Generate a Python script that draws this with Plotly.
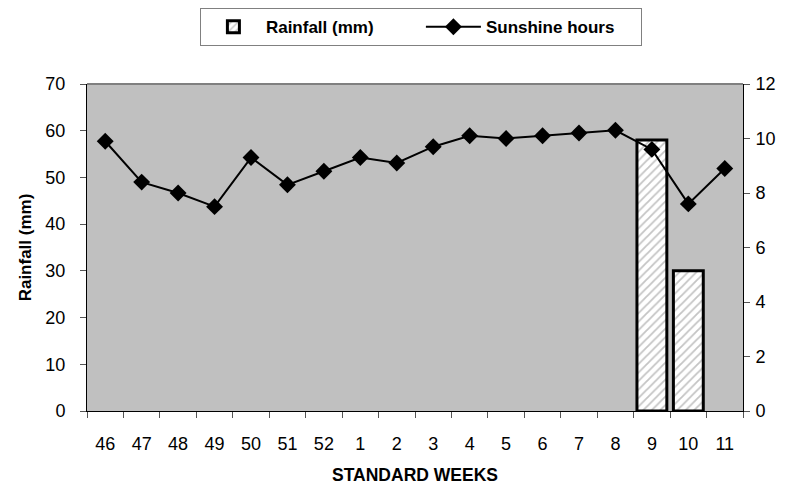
import plotly.graph_objects as go

weeks = ["46", "47", "48", "49", "50", "51", "52", "1", "2", "3", "4", "5", "6", "7", "8", "9", "10", "11"]
rainfall = [None, None, None, None, None, None, None, None, None, None, None, None, None, None, None, 58, 30, None]
sunshine = [9.9, 8.4, 8.0, 7.5, 9.3, 8.3, 8.8, 9.3, 9.1, 9.7, 10.1, 10.0, 10.1, 10.2, 10.3, 9.6, 7.6, 8.9]

FONT = "Liberation Sans, Arial, sans-serif"

fig = go.Figure()
fig.add_trace(go.Bar(
    x=weeks, y=rainfall, name="Rainfall (mm)", yaxis="y",
    marker=dict(color="white", line=dict(color="black", width=3),
                pattern=dict(shape="/", fgcolor="#8a8a8a", bgcolor="white", size=6, solidity=0.3)),
))
fig.add_trace(go.Scatter(
    x=weeks, y=sunshine, name="Sunshine hours", yaxis="y2", mode="lines+markers",
    line=dict(color="black", width=2),
    marker=dict(symbol="diamond", size=13, color="black"),
))

fig.update_layout(
    width=788, height=487,
    margin=dict(l=87, r=45, t=84, b=76, autoexpand=False),
    paper_bgcolor="white", plot_bgcolor="#C0C0C0",
    bargap=0.18,
    font=dict(family=FONT, size=18, color="black"),
    showlegend=True,
    legend=dict(orientation="h", x=0.509, xanchor="center", y=1.232, yanchor="top",
                bordercolor="#808080", borderwidth=1, bgcolor="white",
                font=dict(family=FONT, size=17, color="black", weight="bold"),
                itemwidth=55, entrywidth=150, entrywidthmode="pixels"),
    xaxis=dict(type="category", range=[-0.5, 17.5], tickson="boundaries", ticks="outside", ticklen=6,
               tickcolor="#555", showline=True, linecolor="black", linewidth=1,
               showgrid=False, tickfont=dict(size=18), ticklabelstandoff=16,
               title=dict(text="STANDARD WEEKS", standoff=16,
                          font=dict(size=17.5, weight="bold")),
               automargin=False),
    yaxis=dict(range=[0, 70], dtick=10, ticks="outside", ticklen=6, tickcolor="#555",
               showline=True, linecolor="black", linewidth=1, showgrid=False, zeroline=False,
               tickfont=dict(size=18), ticklabelstandoff=11,
               title=dict(text="Rainfall (mm)", standoff=9,
                          font=dict(size=17, weight="bold")),
               automargin=False),
    yaxis2=dict(range=[0, 12], dtick=2, overlaying="y", side="right", ticks="outside",
                ticklen=6, tickcolor="#555", showline=True, linecolor="black", linewidth=1,
                showgrid=False, zeroline=False, tickfont=dict(size=18), ticklabelstandoff=2,
                automargin=False),
    shapes=[dict(type="line", xref="paper", yref="paper", x0=0, x1=1, y0=1, y1=1,
                 line=dict(color="#808080", width=2))],
)

fig.write_html("out.html")
